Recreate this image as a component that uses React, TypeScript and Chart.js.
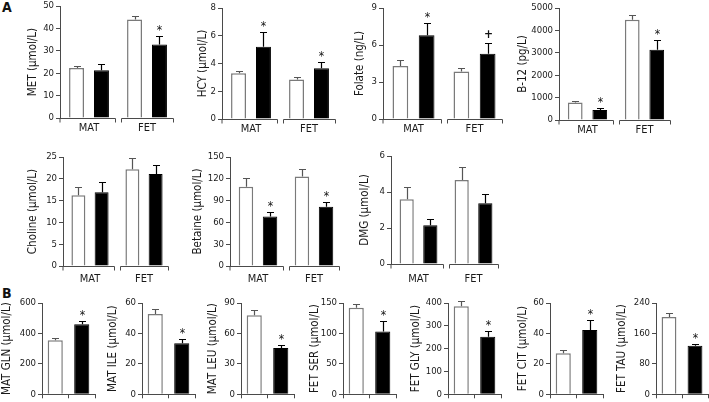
import React, { useEffect, useRef } from 'react';
import { Chart, registerables } from 'chart.js';

Chart.register(...registerables);

const FONT = '"Liberation Sans Narrow", "DejaVu Sans Condensed", "Liberation Sans", Arial, sans-serif';
const AXIS = '#4a4a4a';
const TEXT = '#1a1a1a';

// ---------- data ----------
const groupLabels = ['MAT', 'FET'];

const metControl = [22.3, 44.0];
const metControlSem = [1.1, 1.5];
const metTreated = [21.3, 32.8];
const metTreatedSem = [2.7, 3.7];
const metMarks = ['', '*'];

const hcyControl = [3.3, 2.85];
const hcyControlSem = [0.15, 0.15];
const hcyTreated = [5.2, 3.65];
const hcyTreatedSem = [1.05, 0.45];
const hcyMarks = ['*', '*'];

const folateControl = [4.3, 3.85];
const folateControlSem = [0.45, 0.3];
const folateTreated = [6.8, 5.3];
const folateTreatedSem = [1.0, 0.9];
const folateMarks = ['*', '+'];

const b12Control = [780, 4480];
const b12ControlSem = [80, 220];
const b12Treated = [445, 3140];
const b12TreatedSem = [70, 440];
const b12Marks = ['*', '*'];

const cholineControl = [16.2, 22.2];
const cholineControlSem = [1.9, 2.6];
const cholineTreated = [16.9, 21.1];
const cholineTreatedSem = [2.4, 2.0];
const cholineMarks = ['', ''];

const betaineControl = [109, 123];
const betaineControlSem = [12, 11];
const betaineTreated = [68, 81.5];
const betaineTreatedSem = [6.5, 7];
const betaineMarks = ['*', '*'];

const dmgControl = [3.6, 4.66];
const dmgControlSem = [0.7, 0.72];
const dmgTreated = [2.15, 3.37];
const dmgTreatedSem = [0.35, 0.5];
const dmgMarks = ['', ''];

// section B: [control, treated]
const glnValues = [356, 460];
const glnSem = [17, 21];
const ileValues = [52.7, 33.6];
const ileSem = [3.6, 2.6];
const leuValues = [78, 45.6];
const leuSem = [5, 3];
const serValues = [142, 103];
const serSem = [7, 18];
const glyValues = [386, 252];
const glySem = [21, 26];
const citValues = [26.9, 42.3];
const citSem = [2.2, 6.4];
const tauValues = [203, 127.6];
const tauSem = [11, 5.5];
const bMarks = ['', '*'];

// ---------- panel definitions (layout separate from data) ----------
type Grouped = {
  kind: 'grouped';
  title: string;
  control: number[]; controlSem: number[];
  treated: number[]; treatedSem: number[];
  marks: string[];
  max: number; step: number;
  box: number[]; titleX: number; labelPad: number;
};
type Single = {
  kind: 'single';
  title: string;
  values: number[]; sem: number[]; marks: string[];
  max: number; step: number;
  box: number[]; titleX: number; labelPad: number;
};

const panels: (Grouped | Single)[] = [
  { kind: 'grouped', title: 'MET (\u00b5mol/L)', control: metControl, controlSem: metControlSem, treated: metTreated, treatedSem: metTreatedSem, marks: metMarks, max: 50, step: 10, box: [60, 6, 176, 118], titleX: 33, labelPad: 4 },
  { kind: 'grouped', title: 'HCY (\u00b5mol/L)', control: hcyControl, controlSem: hcyControlSem, treated: hcyTreated, treatedSem: hcyTreatedSem, marks: hcyMarks, max: 8, step: 2, box: [222, 8, 338, 119], titleX: 203, labelPad: 4 },
  { kind: 'grouped', title: 'Folate (ng/L)', control: folateControl, controlSem: folateControlSem, treated: folateTreated, treatedSem: folateTreatedSem, marks: folateMarks, max: 9, step: 3, box: [383, 8, 505, 119], titleX: 360, labelPad: 4 },
  { kind: 'grouped', title: 'B-12 (pg/L)', control: b12Control, controlSem: b12ControlSem, treated: b12Treated, treatedSem: b12TreatedSem, marks: b12Marks, max: 5000, step: 1000, box: [559, 8, 673, 120], titleX: 523, labelPad: 4 },
  { kind: 'grouped', title: 'Choline (\u00b5mol/L)', control: cholineControl, controlSem: cholineControlSem, treated: cholineTreated, treatedSem: cholineTreatedSem, marks: cholineMarks, max: 25, step: 5, box: [63, 157, 171, 266], titleX: 33, labelPad: 7 },
  { kind: 'grouped', title: 'Betaine (\u00b5mol/L)', control: betaineControl, controlSem: betaineControlSem, treated: betaineTreated, treatedSem: betaineTreatedSem, marks: betaineMarks, max: 150, step: 30, box: [230, 157, 342, 266], titleX: 198, labelPad: 7 },
  { kind: 'grouped', title: 'DMG (\u00b5mol/L)', control: dmgControl, controlSem: dmgControlSem, treated: dmgTreated, treatedSem: dmgTreatedSem, marks: dmgMarks, max: 6, step: 2, box: [391, 156, 501, 264], titleX: 365, labelPad: 9 },
  { kind: 'single', title: 'MAT GLN (\u00b5mol/L)', values: glnValues, sem: glnSem, marks: bMarks, max: 600, step: 200, box: [42, 303, 95, 396], titleX: 7, labelPad: 0 },
  { kind: 'single', title: 'MAT ILE (\u00b5mol/L)', values: ileValues, sem: ileSem, marks: bMarks, max: 60, step: 20, box: [142, 303, 195, 396], titleX: 113, labelPad: 0 },
  { kind: 'single', title: 'MAT LEU (\u00b5mol/L)', values: leuValues, sem: leuSem, marks: bMarks, max: 90, step: 30, box: [241, 303, 294, 396], titleX: 213, labelPad: 0 },
  { kind: 'single', title: 'FET SER (\u00b5mol/L)', values: serValues, sem: serSem, marks: bMarks, max: 150, step: 50, box: [343, 303, 396, 396], titleX: 315, labelPad: 0 },
  { kind: 'single', title: 'FET GLY (\u00b5mol/L)', values: glyValues, sem: glySem, marks: bMarks, max: 400, step: 100, box: [448, 303, 501, 396], titleX: 416, labelPad: 0 },
  { kind: 'single', title: 'FET CIT (\u00b5mol/L)', values: citValues, sem: citSem, marks: bMarks, max: 60, step: 20, box: [550, 303, 603, 396], titleX: 523, labelPad: 0 },
  { kind: 'single', title: 'FET TAU (\u00b5mol/L)', values: tauValues, sem: tauSem, marks: bMarks, max: 240, step: 80, box: [656, 303, 708, 396], titleX: 622, labelPad: 0 },
];

const TITLE_SIZE = 11.5;
const PAD_TOP = 8;

const decorPlugin = {
  id: 'decor',
  afterDatasetsDraw(chart: any) {
    const ctx = chart.ctx;
    const ys = chart.scales.y;
    ctx.save();
    chart.data.datasets.forEach((ds: any, di: number) => {
      const meta = chart.getDatasetMeta(di);
      meta.data.forEach((el: any, i: number) => {
        const v = ds.data[i];
        const sem = ds.sem[i];
        const dark = Array.isArray(ds.dark) ? ds.dark[i] : ds.dark;
        const x = Math.round(el.x) + 0.5;
        const yBar = el.y;
        const yTop = Math.round(ys.getPixelForValue(v + sem)) + 0.5;
        ctx.strokeStyle = dark ? '#000' : '#555';
        ctx.lineWidth = 1.2;
        ctx.beginPath();
        ctx.moveTo(x, yBar);
        ctx.lineTo(x, yTop);
        ctx.moveTo(x - 3.5, yTop);
        ctx.lineTo(x + 3.5, yTop);
        ctx.stroke();
        const m = ds.marks[i];
        if (m) {
          ctx.fillStyle = '#111';
          ctx.textAlign = 'center';
          ctx.textBaseline = 'alphabetic';
          if (m === '*') {
            ctx.font = `12px ${FONT}`;
            ctx.fillText(m, x, yTop - 3);
          } else {
            ctx.font = `bold 12px ${FONT}`;
            ctx.fillText(m, x, yTop - 6);
          }
        }
      });
    });
    ctx.restore();
  },
  afterDraw(chart: any) {
    if (!chart.options.plugins.decor || !chart.options.plugins.decor.segments) return;
    const ctx = chart.ctx;
    const xs = chart.scales.x;
    const { left, right, bottom } = chart.chartArea;
    const n = chart.data.labels.length;
    const cw = (right - left) / n;
    const yb = Math.round(bottom) + 0.5;
    ctx.save();
    ctx.strokeStyle = AXIS;
    ctx.lineWidth = 1;
    for (let i = 0; i < n; i++) {
      const c = xs.getPixelForValue(i);
      const s = i === 0 ? left : Math.round(c - cw / 2 + 3) + 0.5;
      const e = Math.round(c + cw / 2 - 3) + 0.5;
      ctx.beginPath();
      ctx.moveTo(s, yb);
      ctx.lineTo(e, yb);
      ctx.moveTo(s, yb);
      ctx.lineTo(s, yb + 4);
      ctx.moveTo(e, yb);
      ctx.lineTo(e, yb + 4);
      ctx.stroke();
    }
    ctx.restore();
  },
};

function PanelChart({ p }: { p: Grouped | Single }) {
  const ref = useRef<HTMLCanvasElement>(null);
  const [l, t, r, b] = p.box;
  const grouped = p.kind === 'grouped';
  const cx = Math.round(p.titleX - TITLE_SIZE / 2);
  const padRight = grouped ? 3 : 1;
  const xh = grouped ? 26 : 6;
  const cy = t - PAD_TOP;
  const w = r + padRight - cx;
  const h = PAD_TOP + (b - t) + xh;

  useEffect(() => {
    if (!ref.current) return;
    let data: any;
    if (p.kind === 'grouped') {
      data = {
        labels: groupLabels,
        datasets: [
          {
            data: p.control, sem: p.controlSem, marks: ['', ''], dark: false,
            backgroundColor: '#ffffff', borderColor: '#7a7a7a', borderWidth: 1.5,
            categoryPercentage: 0.86, barPercentage: 0.6,
          },
          {
            data: p.treated, sem: p.treatedSem, marks: p.marks, dark: true,
            backgroundColor: '#000000', borderColor: '#000000', borderWidth: 1,
            categoryPercentage: 0.86, barPercentage: 0.6,
          },
        ],
      };
    } else {
      data = {
        labels: ['', ''],
        datasets: [
          {
            data: p.values, sem: p.sem, marks: p.marks, dark: [false, true],
            backgroundColor: ['#ffffff', '#000000'], borderColor: ['#7a7a7a', '#000000'], borderWidth: [1.5, 1],
            categoryPercentage: 1, barPercentage: 0.57,
          },
        ],
      };
    }
    const chart = new Chart(ref.current, {
      type: 'bar',
      data,
      plugins: [decorPlugin as any],
      options: {
        responsive: false,
        animation: false,
        devicePixelRatio: 1,
        layout: { padding: { top: PAD_TOP, right: padRight, left: 0, bottom: 0 } },
        plugins: {
          legend: { display: false },
          tooltip: { enabled: false },
          decor: { segments: grouped },
        } as any,
        scales: {
          x: {
            offset: true,
            grid: grouped
              ? { display: false, drawTicks: false }
              : { display: true, offset: true, drawOnChartArea: false, drawTicks: true, tickLength: 4, color: AXIS },
            border: grouped ? { display: false } : { display: true, color: AXIS, width: 1 },
            ticks: grouped
              ? { display: true, font: { family: FONT, size: 11 }, color: TEXT, padding: p.labelPad, maxRotation: 0, autoSkip: false }
              : { display: false },
            afterFit: (s: any) => { s.height = xh; },
          },
          y: {
            min: 0,
            max: p.max,
            ticks: {
              stepSize: p.step, font: { family: FONT, size: 9.5 }, color: TEXT, padding: 2,
              callback: (v: any) => String(v),
            },
            grid: { display: true, drawOnChartArea: false, drawTicks: true, tickLength: 4, color: AXIS },
            border: { display: true, color: AXIS, width: 1 },
            title: {
              display: true, text: p.title, color: TEXT, padding: 0,
              font: { family: FONT, size: TITLE_SIZE, lineHeight: 1 },
            },
            afterFit: (s: any) => { s.width = l - cx; },
          },
        } as any,
      },
    } as any);
    return () => chart.destroy();
  }, []);

  return (
    <canvas
      ref={ref}
      width={w}
      height={h}
      style={{ position: 'absolute', left: cx, top: cy, width: w, height: h }}
    />
  );
}

export default function App() {
  return (
    <div style={{ position: 'absolute', left: 0, top: 0, width: 709, height: 402, overflow: 'hidden', background: '#ffffff' }}>
      <div style={{ position: 'absolute', left: 2, top: -1, font: `bold 14px ${FONT}`, color: '#111' }}>A</div>
      <div style={{ position: 'absolute', left: 2, top: 285, font: `bold 14px ${FONT}`, color: '#111' }}>B</div>
      {panels.map((p, i) => (
        <PanelChart key={i} p={p} />
      ))}
    </div>
  );
}
